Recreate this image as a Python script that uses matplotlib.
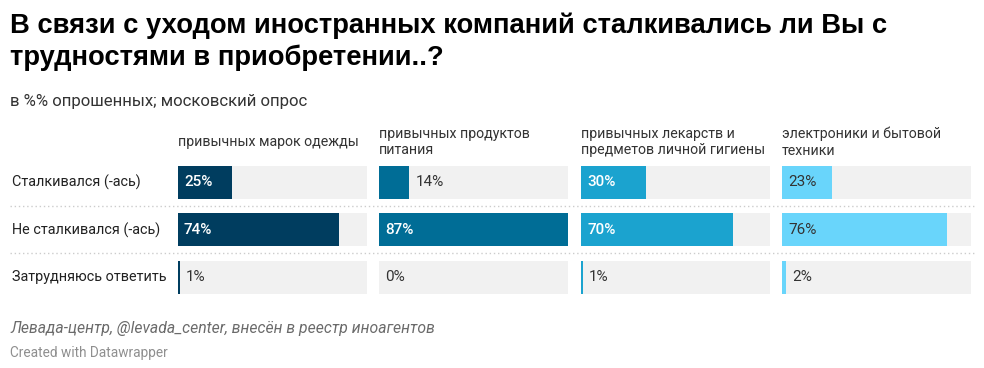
import matplotlib
matplotlib.use("Agg")
import matplotlib.pyplot as plt

# ---- data ----
title_lines = ["В связи с уходом иностранных компаний сталкивались ли Вы с",
               "трудностями в приобретении..?"]
subtitle = "в %% опрошенных; московский опрос"
rows = ["Сталкивался (-ась)", "Не сталкивался (-ась)", "Затрудняюсь ответить"]
columns = ["привычных марок одежды",
           "привычных продуктов\nпитания",
           "привычных лекарств и\nпредметов личной гигиены",
           "электроники и бытовой\nтехники"]
odezhda = [25, 74, 1]
produkty = [14, 87, 0]
lekarstva = [30, 70, 1]
elektronika = [23, 76, 2]
source = "Левада-центр, @levada_center, внесён в реестр иноагентов"
credit = "Created with Datawrapper"

series = [odezhda, produkty, lekarstva, elektronika]
colors = ["#003d5f", "#006d96", "#1ba3cf", "#69d5fb"]
label_white = [True, True, True, False]

W, H = 984, 368
fig = plt.figure(figsize=(W / 100, H / 100), dpi=100)
fig.patch.set_facecolor("white")

FONT = ["Roboto", "DejaVu Sans"]

def fx(px):
    return px / W

def fy(py):
    return 1 - py / H

# title & subtitle
for line, base in zip(title_lines, [33, 65]):
    fig.text(fx(10), fy(base), line, fontsize=19.7, fontweight="bold",
             family=["Liberation Sans", "DejaVu Sans"], color="#000000", va="baseline")
fig.text(fx(10), fy(106), subtitle, fontsize=12.1, family=FONT,
         color="#333333", va="baseline")

col_x = [178, 379, 581, 782]
col_w = 189
top_px, bot_px = 158.75, 300.75
vmax = max(max(s) for s in series)

for i, (vals, c) in enumerate(zip(series, colors)):
    ax = fig.add_axes([fx(col_x[i]), fy(bot_px), col_w / W, (bot_px - top_px) / H])
    ax.set_xlim(0, vmax)
    ax.set_ylim(2.5, -0.5)
    ax.axis("off")
    ypos = list(range(len(rows)))
    ax.barh(ypos, [vmax] * len(rows), height=0.695, color="#f1f1f1", linewidth=0)
    ax.barh(ypos, vals, height=0.695, color=c, linewidth=0)
    for y, v in zip(ypos, vals):
        if v >= 20:
            tc = "white" if label_white[i] else "#333333"
            fw = "medium" if label_white[i] else "normal"
            ax.annotate(f"{v}%", (0, y), xytext=(6, 0), textcoords="offset pixels",
                        va="center", ha="left", fontsize=11, color=tc, fontweight=fw,
                        family=FONT)
        else:
            ax.annotate(f"{v}%", (v, y), xytext=(6, 0), textcoords="offset pixels",
                        va="center", ha="left", fontsize=11, color="#333333",
                        family=FONT)
    fig.text(fx(col_x[i]), fy(142), columns[i], fontsize=10.2, family=FONT,
             color="#333333", va="center", ha="left", linespacing=1.25)

row_centers = [182.5, 230, 277]
for r, yc in zip(rows, row_centers):
    fig.text(fx(12), fy(yc), r, fontsize=10.4, family=FONT, color="#222222",
             va="center", ha="left")

# dotted separators
for ysep in [206, 253]:
    fig.add_artist(plt.Line2D([fx(10), fx(975)], [fy(ysep), fy(ysep)],
                              color="#cccccc", linewidth=1, linestyle=(0, (1, 2))))

fig.text(fx(10), fy(333), source, fontsize=11.3, family=FONT, style="italic",
         color="#6b6b6b", va="baseline")
fig.text(fx(10), fy(357), credit, fontsize=9.8, family=FONT, color="#8f8f8f",
         va="baseline")

fig.savefig("out.png", dpi=100, facecolor="white")
